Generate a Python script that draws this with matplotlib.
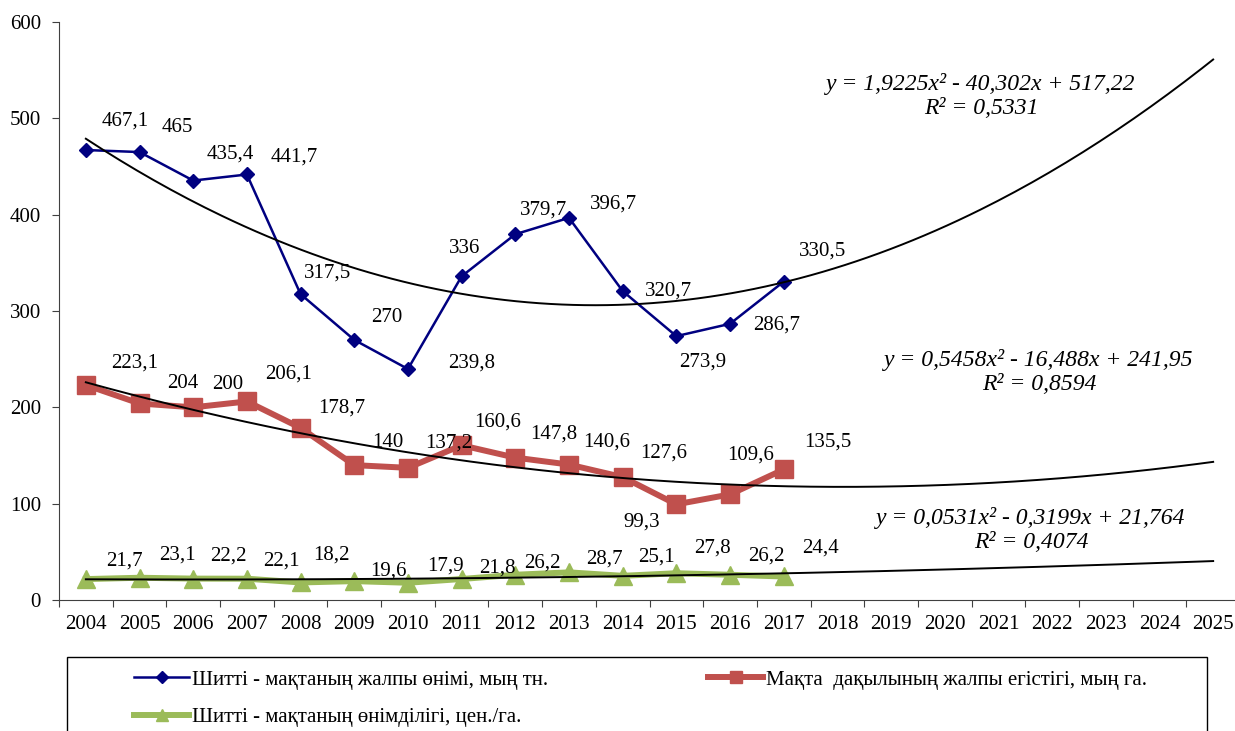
import numpy as np
import matplotlib.pyplot as plt
from matplotlib.lines import Line2D
from matplotlib.patches import Rectangle

plt.rcParams['font.family'] = ['Liberation Serif', 'DejaVu Serif']

# Data
years = [str(y) for y in range(2004, 2026)]
data_years = list(range(2004, 2018))

production = [467.1, 465, 435.4, 441.7, 317.5, 270, 239.8, 336, 379.7, 396.7, 320.7, 273.9, 286.7, 330.5]
area = [223.1, 204, 200, 206.1, 178.7, 140, 137.2, 160.6, 147.8, 140.6, 127.6, 99.3, 109.6, 135.5]
yield_ = [21.7, 23.1, 22.2, 22.1, 18.2, 19.6, 17.9, 21.8, 26.2, 28.7, 25.1, 27.8, 26.2, 24.4]

prod_labels = ['467,1', '465', '435,4', '441,7', '317,5', '270', '239,8', '336', '379,7', '396,7', '320,7', '273,9', '286,7', '330,5']
area_labels = ['223,1', '204', '200', '206,1', '178,7', '140', '137,2', '160,6', '147,8', '140,6', '127,6', '99,3', '109,6', '135,5']
yield_labels = ['21,7', '23,1', '22,2', '22,1', '18,2', '19,6', '17,9', '21,8', '26,2', '28,7', '25,1', '27,8', '26,2', '24,4']

legend_names = ['Шитті - мақтаның жалпы өнімі, мың тн.',
                'Мақта  дақылының жалпы егістігі, мың га.',
                'Шитті - мақтаның өнімділігі, цен./га.']

eq_texts = ['y = 1,9225x² - 40,302x + 517,22\nR² = 0,5331',
            'y = 0,5458x² - 16,488x + 241,95\nR² = 0,8594',
            'y = 0,0531x² - 0,3199x + 21,764\nR² = 0,4074']

# label offsets (pixels) from each point, as in the original layout
prod_off = [(39, 29), (38, 25), (37, 27), (47, 17), (27, 21), (33, 22), (64, 6), (3, 28),
            (28, 24), (45, 14), (46, 0), (26, -26), (47, -1), (39, 31)]
area_off = [(49, 22), (43, 20), (34, 23), (42, 27), (41, 20), (34, 23), (41, 25), (36, 23),
            (38, 24), (38, 23), (41, 24), (-35, -18), (21, 39), (44, 27)]
yield_off = [(39, 18), (38, 23), (35, 23), (34, 18), (31, 27), (34, 10), (38, 17), (36, 11),
             (27, 12), (35, 13), (34, 19), (36, 25), (36, 19), (37, 28)]

W, H = 1235, 731
fig = plt.figure(figsize=(W / 100, H / 100), dpi=100)
ax = fig.add_axes([59 / W, 1 - 600 / H, (1240 - 59) / W, (600 - 22) / H])

xi = np.arange(len(data_years))
blue, red, green = '#000080', '#C0504D', '#9BBB59'

ax.plot(xi, production, color=blue, lw=1.8, marker='D', ms=7, zorder=3)
ax.plot(xi, area, color=red, lw=4.3, marker='s', ms=13, zorder=3)
ax.plot(xi, yield_, color=green, lw=4.3, marker='^', ms=13, zorder=3)

# polynomial trend lines (Excel x = 1, 2, ...), extended to 2025
xe = xi + 1
xs = np.linspace(1, len(years), 200)
for series in (production, area, yield_):
    c = np.polyfit(xe, series, 2)
    ax.plot(xs - 1, np.polyval(c, xs), color='black', lw=1.4, zorder=4)

for series, labels, offs in ((production, prod_labels, prod_off),
                             (area, area_labels, area_off),
                             (yield_, yield_labels, yield_off)):
    for i, (v, t, o) in enumerate(zip(series, labels, offs)):
        ax.annotate(t, (i, v), xytext=o, textcoords='offset pixels',
                    ha='center', va='center', fontsize=15, zorder=5)

ax.set_xlim(-0.5, len(years) - 0.5)
ax.set_ylim(0, 600)
ax.set_yticks(range(0, 601, 100))
ax.set_xticks(np.arange(-0.5, len(years), 1))
ax.set_xticklabels([])
ax.set_xticks(np.arange(len(years)), minor=True)
ax.set_xticklabels(years, minor=True)
ax.tick_params(axis='x', which='minor', length=0, pad=11, labelsize=15)
ax.tick_params(axis='x', which='major', length=5, color='#404040')
ax.tick_params(axis='y', length=5, pad=8, labelsize=15, color='#404040')
for s in ('top', 'right'):
    ax.spines[s].set_visible(False)
for s in ('left', 'bottom'):
    ax.spines[s].set_color('#404040')

eq_pos = [(981, 96), (1039, 372), (1031, 530)]
for (x, y), t in zip(eq_pos, eq_texts):
    fig.text(x / W, 1 - y / H, t, ha='center', va='center', fontsize=17,
             style='italic', linespacing=1.2)

# legend (smaller markers than on the plot)
h1 = Line2D([], [], color=blue, lw=1.8, marker='D', ms=6)
h2 = Line2D([], [], color=red, lw=4.3, marker='s', ms=9)
h3 = Line2D([], [], color=green, lw=4.3, marker='^', ms=8)
fig.patches.append(Rectangle((67 / W, -0.05), (1207 - 67) / W, 1 - 657 / H + 0.05,
                             transform=fig.transFigure, fill=False, ec='black', lw=1))
fig.legend([h1, h3], [legend_names[0], legend_names[2]], loc='upper left',
           bbox_to_anchor=(134 / W, 1 - 670 / H), frameon=False, fontsize=15,
           handlelength=2.65, handletextpad=0.15, borderpad=0, borderaxespad=0,
           labelspacing=0.85)
fig.legend([h2], [legend_names[1]], loc='upper left',
           bbox_to_anchor=(708 / W, 1 - 670 / H), frameon=False, fontsize=15,
           handlelength=2.65, handletextpad=0.15, borderpad=0, borderaxespad=0)

fig.savefig('out.png', dpi=100)
